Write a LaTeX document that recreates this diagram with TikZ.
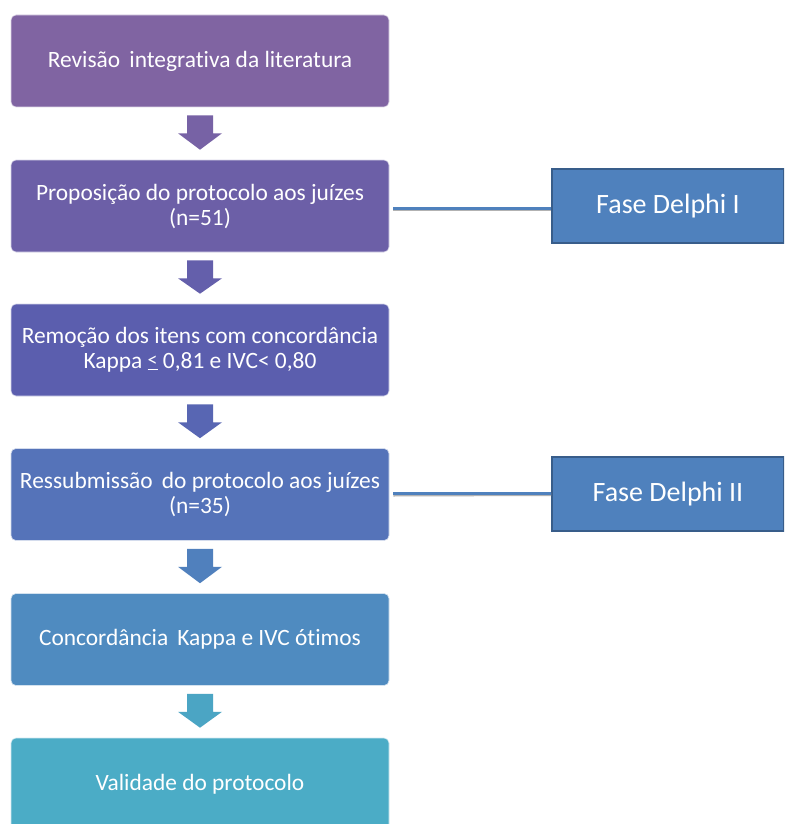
\documentclass[tikz,border=0pt]{standalone}
\usepackage{fontspec}
\setmainfont{Carlito}[Ligatures={NoCommon}]
\usetikzlibrary{calc}
\definecolor{cA}{HTML}{8064A2}
\definecolor{cB}{HTML}{6C5FA7}
\definecolor{cC}{HTML}{5B5EAE}
\definecolor{cD}{HTML}{5573B9}
\definecolor{cE}{HTML}{4F8BC0}
\definecolor{cF}{HTML}{4BACC6}
\definecolor{aA}{HTML}{7762A5}
\definecolor{aB}{HTML}{645FAB}
\definecolor{aC}{HTML}{5866B3}
\definecolor{aD}{HTML}{5080BD}
\definecolor{aE}{HTML}{4BA5C4}
\definecolor{fase}{HTML}{4F81BD}
\definecolor{faseb}{HTML}{385D8A}
\tikzset{
  stepbox/.style={rounded corners=5pt, minimum width=378pt, minimum height=92pt,
    inner sep=0pt, align=center, text=white, font=\fontsize{23.4}{25}\selectfont,
    draw=white!75!#1, line width=0.6pt, fill=#1},
  phasebox/.style={minimum width=232pt, minimum height=74pt, inner sep=0pt,
    fill=fase, draw=faseb, line width=1.6pt, text=white,
    font=\fontsize{28}{32}\selectfont},
  link/.style={draw=fase, line width=3pt},
  linkshadow/.style={draw=black!30, line width=3pt},
}
\newcommand{\downarrowshape}[3]{%
  \fill[#3] ($(#1.south)+(-13pt,-8pt)$) -- ++(26pt,0) -- ++(0,-18pt) -- ++(9pt,0)
    -- ($(#2.north)+(0,10pt)$) -- ($(#1.south)+(-22pt,-26pt)$) -- ++(9pt,0) -- cycle;}
\newcommand{\uleq}{\raisebox{1pt}{\underline{\raisebox{1pt}{\fontsize{20}{20}\selectfont<}}}}
\begin{document}
\begin{tikzpicture}[x=1pt,y=-1pt]
\clip (0,0) rectangle (784,824);
\fill[white] (0,0) rectangle (784,824);
\node[stepbox=cA] (b1) at (200,61) {Revisão\, integrativa da literatura};
\node[stepbox=cB] (b2) at (200,206) {Proposição do protocolo aos juízes\\(n=51)};
\node[stepbox=cC] (b3) at (200,350) {Remoção dos itens com concordância\\Kappa \uleq\ 0,81 e IVC< 0,80};
\node[stepbox=cD] (b4) at (200,494.5) {Ressubmissão\, do protocolo aos juízes\\(n=35)};
\node[stepbox=cE] (b5) at (200,639.5) {Concordância\, Kappa e IVC ótimos};
\node[stepbox=cF] (b6) at (200,784) {Validade do protocolo};
\node[phasebox] (p1) at (668,206) {Fase Delphi I};
\node[phasebox] (p2) at (668,494) {Fase Delphi II};
\downarrowshape{b1}{b2}{aA}
\downarrowshape{b2}{b3}{aB}
\downarrowshape{b3}{b4}{aC}
\downarrowshape{b4}{b5}{aD}
\downarrowshape{b5}{b6}{aE}
\draw[linkshadow] ($(b2.east)+(4,3.5)$) -- ($(p1.west)+(0,3.5)$);
\draw[link] ($(b2.east)+(4,2)$) coordinate (l1s) -- (l1s -| p1.west);
\draw[linkshadow] ($(b4.east)+(4,0.5)$) -- ($(p2.west)+(0,0.5)$);
\draw[link] ($(b4.east)+(4,-1)$) coordinate (l2s) -- (l2s -| p2.west);
\end{tikzpicture}
\end{document}
